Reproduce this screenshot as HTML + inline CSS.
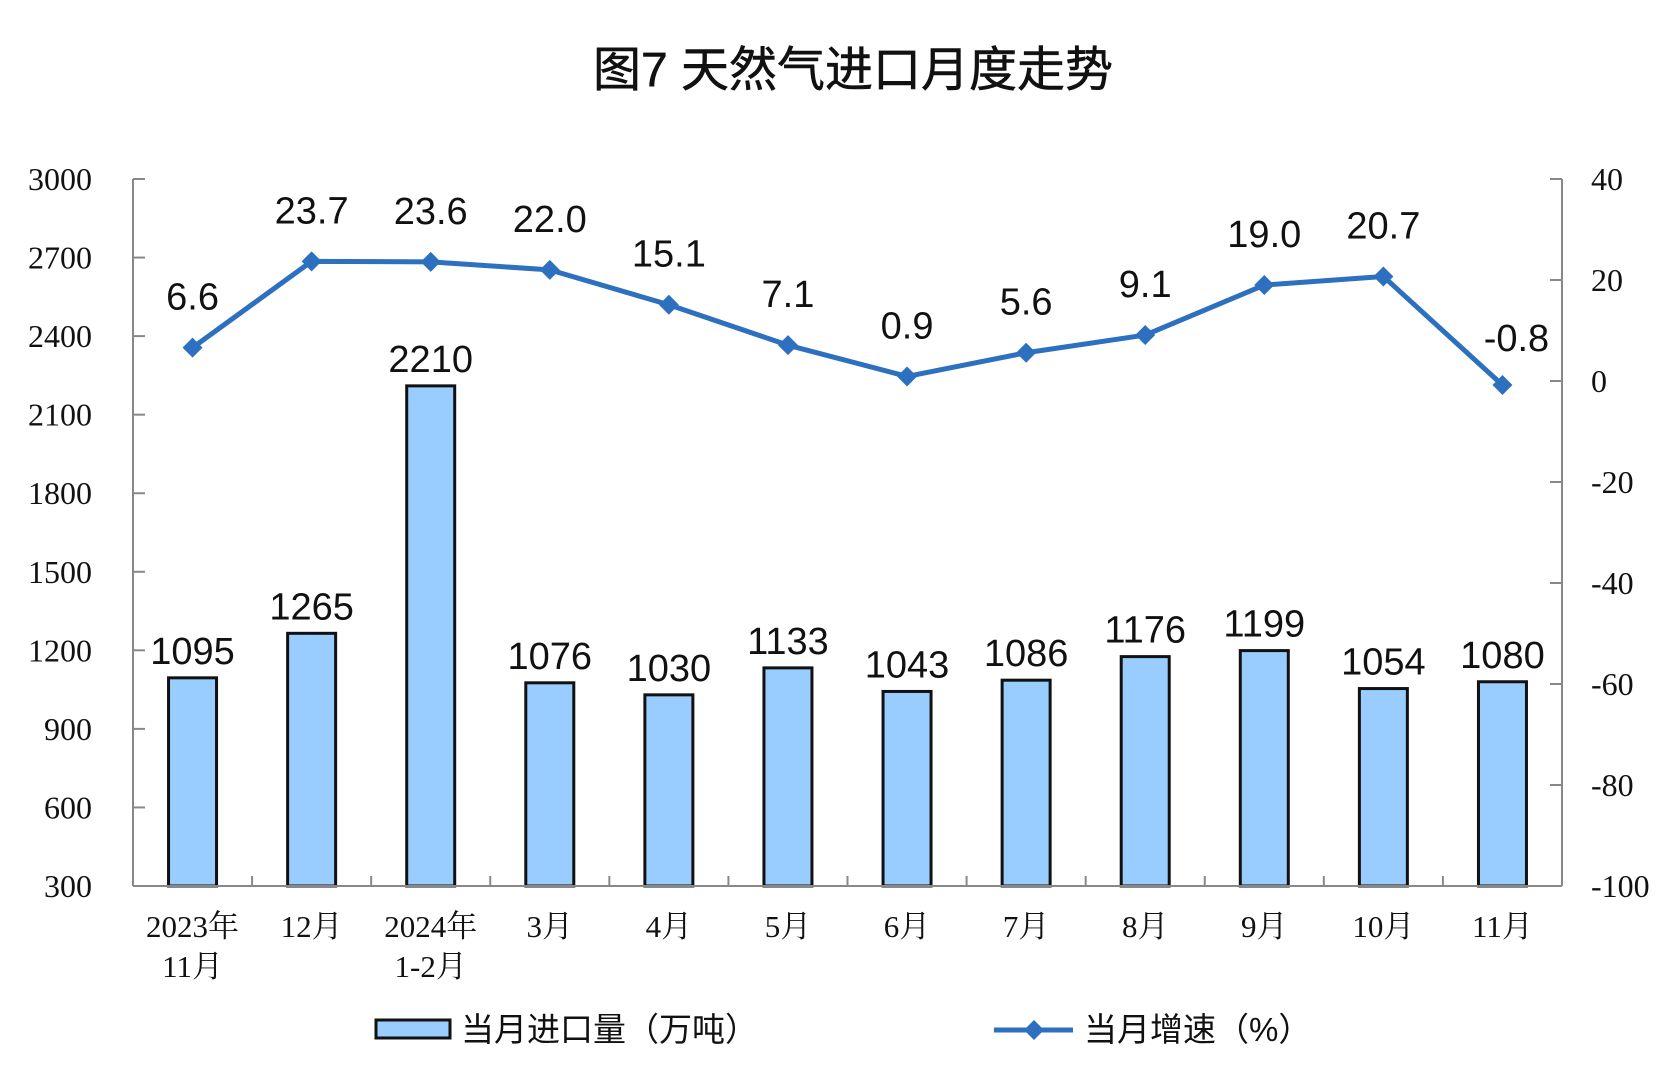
<!DOCTYPE html>
<html><head><meta charset="utf-8"><style>
html,body{margin:0;padding:0;background:#fff;}
svg{display:block;}
</style></head><body>
<svg id="c" width="1674" height="1083" xmlns="http://www.w3.org/2000/svg">
<text x="853" y="86" text-anchor="middle" font-family="'Liberation Sans','Noto Sans CJK SC',sans-serif" font-size="48" fill="#111" stroke="#111" stroke-width="0.6">图7  天然气进口月度走势</text>
</svg>
<script>
const s=document.getElementById('c');
const NS='http://www.w3.org/2000/svg';
function el(t,a,txt){const e=document.createElementNS(NS,t);for(const k in a)e.setAttribute(k,a[k]);if(txt!==undefined)e.textContent=txt;s.appendChild(e);return e;}
const X0=133,X1=1562,Y0=179,Y1=886,cw=(X1-X0)/12;
const yL=v=>Y1-(v-300)*(Y1-Y0)/2700;
const yR=v=>Y1-(v+100)*(Y1-Y0)/140;
const serif="'Liberation Serif','Noto Serif CJK SC',serif";
const sans="'Liberation Sans','Noto Sans CJK SC',sans-serif";
el('line',{x1:X0,y1:Y0,x2:X0,y2:Y1,stroke:'#888','stroke-width':2});
el('line',{x1:X1,y1:Y0,x2:X1,y2:Y1,stroke:'#888','stroke-width':2});
for(let v=300;v<=3000;v+=300){const y=yL(v);el('line',{x1:X0,y1:y,x2:X0+12,y2:y,stroke:'#888','stroke-width':2});
el('text',{x:92,y:y+11,'text-anchor':'end','font-family':serif,'font-size':32,fill:'#111'},v);}
for(let v=-100;v<=40;v+=20){const y=yR(v);el('line',{x1:X1-12,y1:y,x2:X1,y2:y,stroke:'#888','stroke-width':2});
el('text',{x:1591,y:y+11,'font-family':serif,'font-size':32,fill:'#111'},v);}
for(let i=1;i<12;i++){const x=X0+i*cw;el('line',{x1:x,y1:Y1-10,x2:x,y2:Y1,stroke:'#888','stroke-width':2});}
const bars=[1095,1265,2210,1076,1030,1133,1043,1086,1176,1199,1054,1080];
const gr=[6.6,23.7,23.6,22.0,15.1,7.1,0.9,5.6,9.1,19.0,20.7,-0.8];
const cats=[['2023年','11月'],['12月'],['2024年','1-2月'],['3月'],['4月'],['5月'],['6月'],['7月'],['8月'],['9月'],['10月'],['11月']];
bars.forEach((v,i)=>{const cx=X0+(i+0.5)*cw;const y=yL(v);
el('rect',{x:cx-24,y:y,width:48,height:Y1-y,fill:'#99ccff',stroke:'#111','stroke-width':3});
el('text',{x:cx,y:y-14,'text-anchor':'middle','font-family':sans,'font-size':38,fill:'#111'},v);
cats[i].forEach((t,j)=>el('text',{x:cx,y:937+j*40,'text-anchor':'middle','font-family':serif,'font-size':31,fill:'#111'},t));
});
el('line',{x1:X0,y1:Y1,x2:X1,y2:Y1,stroke:'#888','stroke-width':2});
let pts=gr.map((v,i)=>[X0+(i+0.5)*cw,yR(v)]);
el('polyline',{points:pts.map(p=>p.join(',')).join(' '),fill:'none',stroke:'#2d70c0','stroke-width':5,'stroke-linejoin':'round'});
pts.forEach((p,i)=>{el('polygon',{points:`${p[0]},${p[1]-10} ${p[0]+10},${p[1]} ${p[0]},${p[1]+10} ${p[0]-10},${p[1]}`,fill:'#2d70c0'});
let lx=p[0],ly=p[1]-38;
if(i==11){lx=p[0]+14;ly=p[1]-34;}
el('text',{x:lx,y:ly,'text-anchor':'middle','font-family':sans,'font-size':38,fill:'#111'},gr[i].toFixed(1));});
el('rect',{x:376,y:1020,width:74,height:18,fill:'#99ccff',stroke:'#111','stroke-width':3});
el('text',{x:461,y:1041,'font-family':sans,'font-size':33,fill:'#111'},'当月进口量（万吨）');
el('line',{x1:994,y1:1030,x2:1073,y2:1030,stroke:'#2d70c0','stroke-width':5});
el('polygon',{points:'1034,1020 1044,1030 1034,1040 1024,1030',fill:'#2d70c0'});
el('text',{x:1084,y:1041,'font-family':sans,'font-size':33,fill:'#111'},'当月增速（%）');
</script>
</body></html>
